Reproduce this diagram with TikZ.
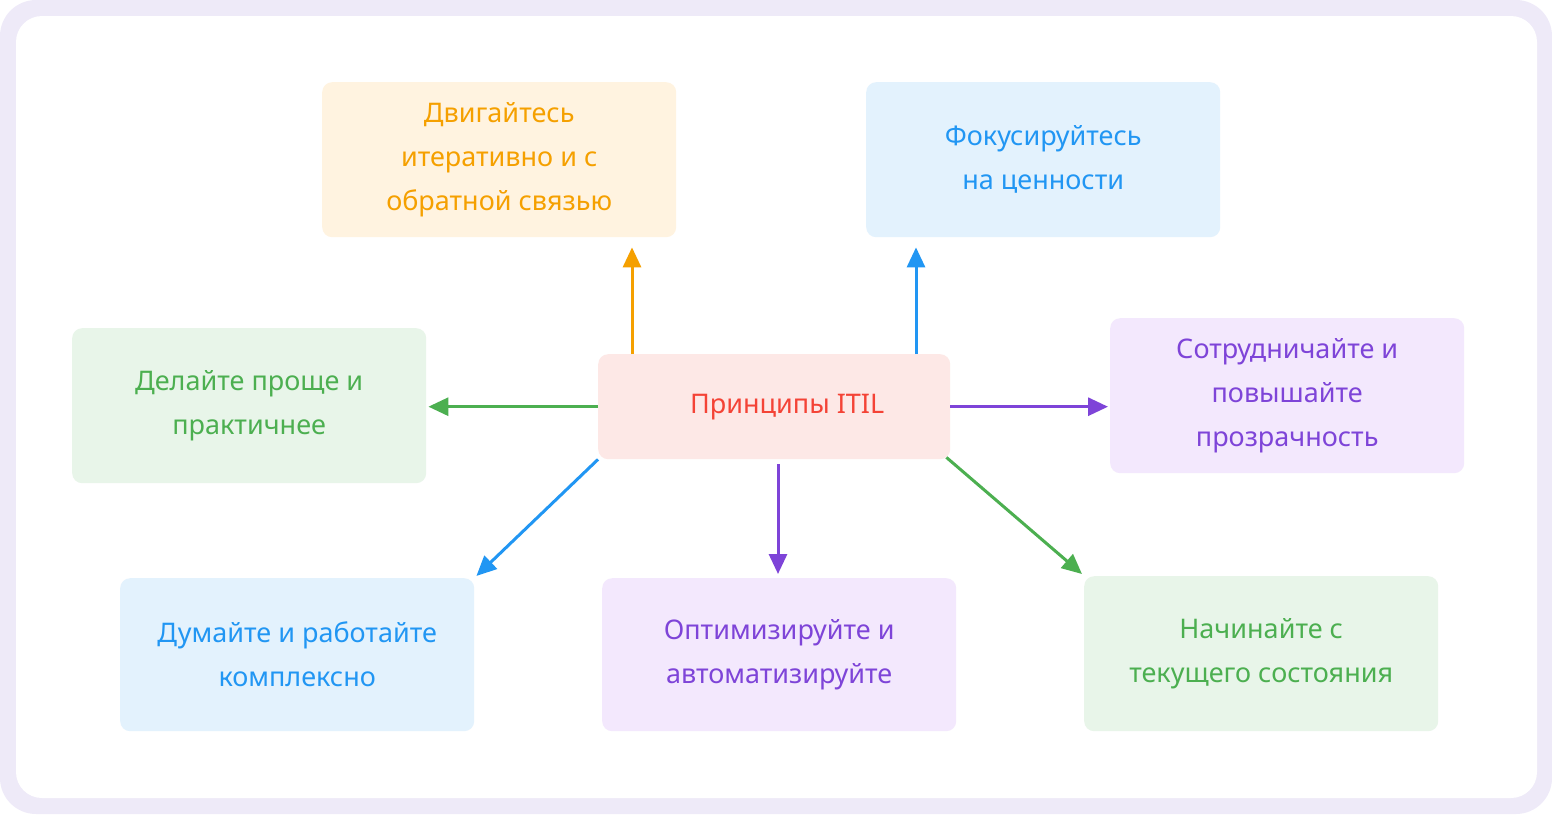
\documentclass[tikz,border=0pt]{standalone}
\usepackage{fontspec}
\setmainfont{Noto Sans}
\usetikzlibrary{arrows.meta}
\definecolor{frameC}{HTML}{EEEAF8}
\definecolor{oF}{HTML}{FFF3E0}\definecolor{oT}{HTML}{F5A000}
\definecolor{bF}{HTML}{E3F2FD}\definecolor{bT}{HTML}{2196F3}
\definecolor{gF}{HTML}{E8F5E9}\definecolor{gT}{HTML}{4CAF50}
\definecolor{pF}{HTML}{F3E8FD}\definecolor{pT}{HTML}{7E44D8}
\definecolor{rF}{HTML}{FDE8E6}\definecolor{rT}{HTML}{F44336}
\tikzset{
 box/.style={anchor=north west,minimum width=354pt,minimum height=155pt,inner sep=0pt,rounded corners=10pt,align=center,font=\fontsize{27}{44}\selectfont},
 arr/.style={line width=3pt,-{Triangle[length=20pt,width=18pt]}}
}
\begin{document}
\begin{tikzpicture}[x=1pt,y=-1pt]
\useasboundingbox (0,0) rectangle (1552,814);
\fill[frameC,rounded corners=36pt] (0,0) rectangle (1552,814);
\fill[white,rounded corners=26pt] (16,16) rectangle (1537,798);
\node[box,fill=oF,text=oT] (o) at (322,82) {Двигайтесь\\итеративно и с\\обратной связью};
\node[box,fill=bF,text=bT] (b1) at (866,82) {Фокусируйтесь\\на ценности};
\node[box,fill=gF,text=gT] (g1) at (72,328) {Делайте проще и\\практичнее};
\node[box,fill=pF,text=pT] (p1) at (1110,318) {Сотрудничайте и\\повышайте\\прозрачность};
\node[box,fill=bF,text=bT,minimum height=153pt] (b2) at (120,578) {Думайте и работайте\\комплексно};
\node[box,fill=pF,text=pT,minimum height=153pt] (p2) at (602,578) {Оптимизируйте и\\автоматизируйте};
\node[box,fill=gF,text=gT] (g2) at (1084,576) {Начинайте с\\текущего состояния};
\node[box,fill=rF,text=rT,minimum width=352pt,minimum height=105pt,font=\fontsize{27}{44}\selectfont\bfseries] (c) at (598,354) {\hspace*{26pt}Принципы ITIL};
\draw[arr,oT] ([xshift=34pt]c.north west) -- ([xshift=310pt,yshift=-10pt]o.south west);
\draw[arr,bT] ([xshift=318pt]c.north west) -- ([xshift=50pt,yshift=-10pt]b1.south west);
\draw[arr,gT] (c.west) -- ([xshift=2pt]c.west -| g1.east);
\draw[arr,pT] (c.east) -- ([xshift=-2pt]c.east -| p1.west);
\draw[arr,bT] (c.south west) -- ([xshift=2pt,yshift=2pt]b2.north east);
\draw[arr,pT] ([xshift=180pt,yshift=-5pt]c.south west) -- ([xshift=176pt,yshift=4pt]p2.north west);
\draw[arr,gT] ([xshift=-4pt,yshift=2pt]c.south east) -- ([xshift=-2pt,yshift=2pt]g2.north west);
\end{tikzpicture}
\end{document}
